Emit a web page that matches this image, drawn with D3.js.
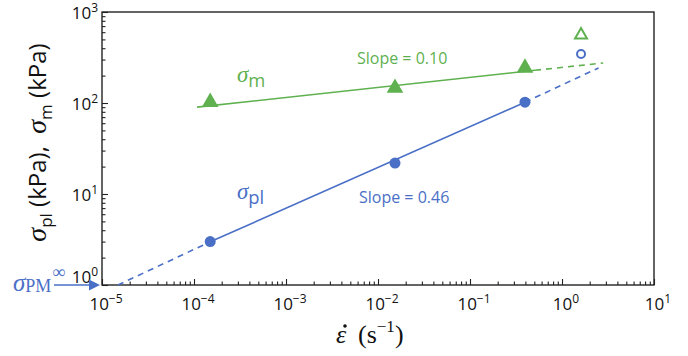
<!DOCTYPE html>
<html>
<head>
<meta charset="utf-8">
<script src="https://cdn.jsdelivr.net/npm/d3@7"></script>
<style>
  body { margin: 0; background: #fff; }
  text { font-family: "Open Sans", "Liberation Sans", sans-serif; }
  .serif { font-family: "Liberation Serif", "DejaVu Serif", serif; }
</style>
</head>
<body>
<svg width="688" height="356"></svg>
<script>
var WIDTH = 688;
var HEIGHT = 356;
var BLUE = "#4a6fc6";
var GREEN = "#5fb14f";

// strain rate (1/s) and stresses (kPa)
var rates = [1.5e-4, 0.0153, 0.396];
var sigmaPl = [3.0, 21.9, 102];
var sigmaM = [102, 146, 243];
// open markers at the fastest rate
var fastRate = [1.61];
var fastPl = [345];
var fastM = [559];

// fitted lines: solid part and dashed extrapolations
var plFitX = [1.5e-4, 0.396];
var plFitY = [2.98, 102];
var plDashLowX = [1.49e-5, 1.5e-4];
var plDashLowY = [1.0, 2.98];
var plDashHighX = [0.396, 2.5];
var plDashHighY = [102, 243];
var mFitX = [1.08e-4, 0.51];
var mFitY = [90, 229];
var mDashX = [0.51, 2.8];
var mDashY = [229, 275];

var xTicks = [-5, -4, -3, -2, -1, 0, 1];
var yTicks = [0, 1, 2, 3];

function minors(lo, hi) {
    var out = [];
    for (var e = lo; e < hi; e++) {
        for (var k = 2; k <= 9; k++) out.push(k * Math.pow(10, e));
    }
    return out;
}

var margin = {left: 102, right: 34, top: 12, bottom: 71};

var svg = d3.select("svg");

var x = d3.scaleLog()
    .domain([1e-5, 10])
    .range([margin.left, WIDTH - margin.right]);
var y = d3.scaleLog()
    .domain([1, 1000])
    .range([HEIGHT - margin.bottom, margin.top]);

var x0 = margin.left, x1 = WIDTH - margin.right;
var y0 = HEIGHT - margin.bottom, y1 = margin.top;

// frame
svg.append("rect")
    .attr("x", x0).attr("y", y1)
    .attr("width", x1 - x0).attr("height", y0 - y1)
    .attr("fill", "none").attr("stroke", "#111").attr("stroke-width", 1.3);

// bottom ticks
svg.append("g")
    .attr("transform", "translate(0," + y0 + ")")
    .call(d3.axisBottom(x).tickValues(xTicks.map(function(e) { return Math.pow(10, e); }))
        .tickSize(-6).tickFormat(""))
    .call(function(g) { g.select(".domain").remove(); });
svg.append("g")
    .attr("transform", "translate(0," + y0 + ")")
    .call(d3.axisBottom(x).tickValues(minors(-5, 1)).tickSize(-3.5).tickFormat(""))
    .call(function(g) { g.select(".domain").remove(); });

// left ticks
svg.append("g")
    .attr("transform", "translate(" + x0 + ",0)")
    .call(d3.axisLeft(y).tickValues(yTicks.map(function(e) { return Math.pow(10, e); }))
        .tickSize(-6).tickFormat(""))
    .call(function(g) { g.select(".domain").remove(); });
svg.append("g")
    .attr("transform", "translate(" + x0 + ",0)")
    .call(d3.axisLeft(y).tickValues(minors(0, 3)).tickSize(-3.5).tickFormat(""))
    .call(function(g) { g.select(".domain").remove(); });

svg.selectAll(".tick line").attr("stroke", "#222").attr("stroke-width", 1.1);

// tick labels
function powerLabel(sel, e) {
    sel.append("tspan").text("10");
    sel.append("tspan").attr("dy", -7).attr("font-size", 12)
        .text(e < 0 ? "\u2212" + (-e) : "" + e);
}

xTicks.forEach(function(e) {
    var t = svg.append("text")
        .attr("x", x(Math.pow(10, e)) + 4)
        .attr("y", y0 + 25)
        .attr("text-anchor", "middle")
        .attr("font-size", 17)
        .attr("fill", "#111");
    powerLabel(t, e);
});
yTicks.forEach(function(e) {
    // the 10^0 label sits a little higher, clear of the arrow
    var lift = e === 0 ? 9 : 0;
    var t = svg.append("text")
        .attr("x", x0 - 4)
        .attr("y", y(Math.pow(10, e)) + 7 - lift)
        .attr("text-anchor", "end")
        .attr("font-size", 17)
        .attr("fill", "#111");
    powerLabel(t, e);
});

// lines
var line = d3.line()
    .x(function(d) { return x(d[0]); })
    .y(function(d) { return y(d[1]); });

function drawLine(xs, ys, color, dashed) {
    svg.append("path")
        .datum(d3.zip(xs, ys))
        .attr("d", line)
        .attr("fill", "none")
        .attr("stroke", color)
        .attr("stroke-width", 1.6)
        .attr("stroke-dasharray", dashed ? "6,5" : null);
}

drawLine(plFitX, plFitY, BLUE, false);
drawLine(plDashLowX, plDashLowY, BLUE, true);
drawLine(plDashHighX, plDashHighY, BLUE, true);
drawLine(mFitX, mFitY, GREEN, false);
drawLine(mDashX, mDashY, GREEN, true);

// markers
var circle = d3.symbol().type(d3.symbolCircle).size(95);
var tri = d3.symbol().type(d3.symbolTriangle).size(120);

svg.selectAll(".pl")
    .data(d3.zip(rates, sigmaPl))
    .enter().append("path")
    .attr("d", circle)
    .attr("transform", function(d) { return "translate(" + x(d[0]) + "," + y(d[1]) + ")"; })
    .attr("fill", BLUE);

svg.selectAll(".m")
    .data(d3.zip(rates, sigmaM))
    .enter().append("path")
    .attr("d", tri)
    .attr("transform", function(d) { return "translate(" + x(d[0]) + "," + y(d[1]) + ")"; })
    .attr("fill", GREEN);

svg.selectAll(".plOpen")
    .data(d3.zip(fastRate, fastPl))
    .enter().append("circle")
    .attr("cx", function(d) { return x(d[0]); })
    .attr("cy", function(d) { return y(d[1]); })
    .attr("r", 4)
    .attr("fill", "none").attr("stroke", BLUE).attr("stroke-width", 2);

svg.selectAll(".mOpen")
    .data(d3.zip(fastRate, fastM))
    .enter().append("path")
    .attr("d", d3.symbol().type(d3.symbolTriangle).size(62))
    .attr("transform", function(d) { return "translate(" + x(d[0]) + "," + y(d[1]) + ")"; })
    .attr("fill", "none").attr("stroke", GREEN).attr("stroke-width", 2);

// annotations
function sigmaLabel(px, py, sub, color, size) {
    var t = svg.append("text").attr("x", px).attr("y", py)
        .attr("fill", color).attr("font-size", size);
    t.append("tspan").attr("class", "serif").attr("font-style", "italic").text("\u03c3");
    t.append("tspan").attr("dy", 5).attr("font-size", size * 0.8).text(sub);
    return t;
}

sigmaLabel(237, 82, "m", GREEN, 23);
svg.append("text").attr("x", 357).attr("y", 64)
    .attr("fill", GREEN).attr("font-size", 16).text("Slope = 0.10");

sigmaLabel(237, 199, "pl", BLUE, 23);
svg.append("text").attr("x", 359).attr("y", 203)
    .attr("fill", BLUE).attr("font-size", 16).text("Slope = 0.46");

// sigma_PM infinity arrow
var pm = svg.append("text").attr("class", "serif").attr("x", 13).attr("y", 291)
    .attr("fill", BLUE).attr("font-size", 25);
pm.append("tspan").attr("font-style", "italic").text("\u03c3");
pm.append("tspan").attr("font-size", 18).attr("dy", 1).text("PM");
pm.append("tspan").attr("font-size", 18).attr("dx", 1).attr("dy", -14).text("\u221e");

svg.append("line")
    .attr("x1", 54).attr("y1", y0).attr("x2", 92).attr("y2", y0)
    .attr("stroke", BLUE).attr("stroke-width", 1.3);
svg.append("path")
    .attr("d", "M" + (x0 - 2) + "," + y0 + " l-11,-5.5 l0,11 z")
    .attr("fill", BLUE);

// y axis title
var yt = svg.append("text")
    .attr("transform", "translate(46," + ((y0 + y1) / 2 - 6) + ") rotate(-90)")
    .attr("text-anchor", "middle")
    .attr("font-size", 24)
    .attr("fill", "#111");
yt.append("tspan").attr("class", "serif").attr("font-style", "italic").attr("font-size", 28).text("\u03c3");
yt.append("tspan").attr("dy", 6).attr("font-size", 17).text("pl");
yt.append("tspan").attr("dy", -6).text("\u00a0(kPa),\u00a0\u00a0");
yt.append("tspan").attr("class", "serif").attr("font-style", "italic").attr("font-size", 28).text("\u03c3");
yt.append("tspan").attr("dy", 6).attr("font-size", 17).text("m");
yt.append("tspan").attr("dy", -6).text("\u00a0(kPa)");

// x axis title: epsilon with a dot above
var eps = svg.append("text").attr("class", "serif")
    .attr("x", 336).attr("y", 343)
    .attr("font-style", "italic")
    .attr("font-size", 26)
    .attr("fill", "#111")
    .text("\u03b5");
svg.append("circle")
    .attr("cx", 345).attr("cy", 326).attr("r", 1.8)
    .attr("fill", "#111");
var xt = svg.append("text").attr("class", "serif")
    .attr("x", 358).attr("y", 343)
    .attr("font-size", 26)
    .attr("fill", "#111");
xt.append("tspan").text("(s");
xt.append("tspan").attr("dy", -11).attr("font-size", 17).text("\u22121");
xt.append("tspan").attr("dy", 11).text(")");
</script>
</body>
</html>
